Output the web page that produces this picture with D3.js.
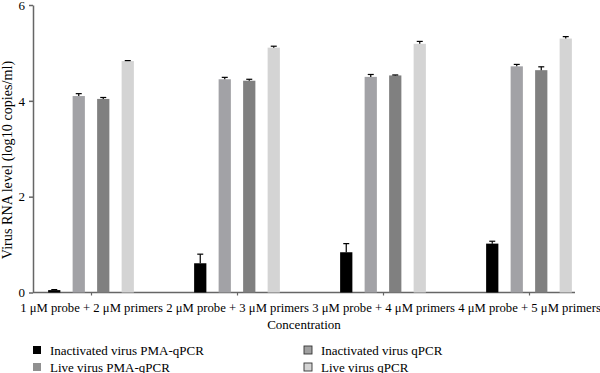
<!DOCTYPE html>
<html>
  <head>
    <meta charset="UTF-8">
    <script src="https://d3js.org/d3.v7.min.js"></script>
    <style>
        body { margin: 0; background: #fff; }
        * { font-family: 'Liberation Serif', 'DejaVu Serif', serif; }
        .tickLabel { font-size: 12.7px; fill: #000; }
        .yTickLabel { font-size: 13px; fill: #000; }
        .axisTitle { font-size: 13px; fill: #000; }
        .yTitle { font-size: 14.2px; fill: #000; }
        .legendLabel { font-size: 13px; fill: #000; }
    </style>
  </head>
  <body>
    <script>
        let categories = ['1 \u03bcM probe + 2 \u03bcM primers', '2 \u03bcM probe + 3 \u03bcM primers',
                          '3 \u03bcM probe + 4 \u03bcM primers', '4 \u03bcM probe + 5 \u03bcM primers']
        let seriesNames = ['Inactivated virus PMA-qPCR', 'Live virus PMA-qPCR', 'Inactivated virus qPCR', 'Live virus qPCR']
        let seriesColors = ['#000000', '#a2a2a6', '#808080', '#d4d4d4']
        let legendColors = ['#000000', '#909090', '#a0a0a0', '#d4d4d4']
        let inactPma = [0.05, 0.61, 0.84, 1.02]
        let inactPmaErr = [0.01, 0.19, 0.18, 0.05]
        let livePma = [4.10, 4.45, 4.50, 4.72]
        let livePmaErr = [0.05, 0.04, 0.05, 0.04]
        let inactQpcr = [4.04, 4.42, 4.53, 4.64]
        let inactQpcrErr = [0.03, 0.03, 0.01, 0.07]
        let liveQpcr = [4.83, 5.11, 5.19, 5.30]
        let liveQpcrErr = [0.01, 0.03, 0.05, 0.04]
        let yTicks = [0, 2, 4, 6]

        let values = [inactPma, livePma, inactQpcr, liveQpcr]
        let errors = [inactPmaErr, livePmaErr, inactQpcrErr, liveQpcrErr]

        let svg = d3.select('body').append('svg')
            .attr('width', 600)
            .attr('height', 373)

        let axisLeftX = 33, axisRightX = 575
        let y = d3.scaleLinear().domain([0, 6]).range([292.5, 5])
        let x = d3.scalePoint().domain(categories).range([91, 529])
        let xSub = d3.scaleBand().domain(seriesNames).range([-49, 49]).paddingInner(0.5).paddingOuter(0.25)

        // y axis
        let yAxis = svg.append('g')
            .attr('transform', `translate(${axisLeftX},0)`)
            .call(d3.axisLeft(y).tickValues(yTicks).tickFormat(d3.format('d')).tickSize(4).tickSizeOuter(0))
        yAxis.select('.domain').attr('stroke', '#666').attr('stroke-width', 1.5)
        yAxis.selectAll('.tick line').attr('stroke', '#666').attr('stroke-width', 1.5)
        yAxis.selectAll('.tick text').attr('class', 'yTickLabel').attr('font-size', null).attr('font-family', null).attr('x', -8)

        // x axis
        let xAxis = svg.append('g')
            .attr('transform', `translate(0,${y(0)})`)
            .call(d3.axisBottom(x).tickSize(3).tickSizeOuter(0))
        xAxis.select('.domain').remove()
        xAxis.selectAll('.tick line').attr('stroke', '#666').attr('stroke-width', 1.2)
        xAxis.selectAll('.tick text').attr('class', 'tickLabel').attr('font-size', null).attr('font-family', null).attr('dy', '1.05em')
        xAxis.append('line')
            .attr('x1', axisLeftX).attr('x2', axisRightX)
            .attr('stroke', '#666').attr('stroke-width', 1.5)

        // bars
        let groups = svg.selectAll('.grp')
            .data(categories)
            .enter()
            .append('g')
            .attr('transform', d => `translate(${x(d)},0)`)

        seriesNames.forEach((s, si) => {
            groups.append('rect')
                .attr('x', xSub(s))
                .attr('width', xSub.bandwidth())
                .attr('y', (d, i) => y(values[si][i]))
                .attr('height', (d, i) => y(0) - y(values[si][i]))
                .attr('fill', seriesColors[si])
            groups.append('line')
                .attr('x1', xSub(s) + xSub.bandwidth() / 2)
                .attr('x2', xSub(s) + xSub.bandwidth() / 2)
                .attr('y1', (d, i) => y(values[si][i]))
                .attr('y2', (d, i) => y(values[si][i] + errors[si][i]))
                .attr('stroke', '#000').attr('stroke-width', 1.2)
            groups.append('line')
                .attr('x1', xSub(s) + xSub.bandwidth() / 2 - 3)
                .attr('x2', xSub(s) + xSub.bandwidth() / 2 + 3)
                .attr('y1', (d, i) => y(values[si][i] + errors[si][i]))
                .attr('y2', (d, i) => y(values[si][i] + errors[si][i]))
                .attr('stroke', '#000').attr('stroke-width', 1.2)
        })

        // axis titles
        svg.append('text')
            .attr('class', 'axisTitle')
            .attr('x', (axisLeftX + axisRightX) / 2)
            .attr('y', 329)
            .attr('text-anchor', 'middle')
            .text('Concentration')

        svg.append('text')
            .attr('class', 'yTitle')
            .attr('transform', 'translate(12,160) rotate(-90)')
            .attr('text-anchor', 'middle')
            .text('Virus RNA level (log10 copies/ml)')

        // legend
        let legendPos = [[33, 350], [33, 367], [304, 350], [304, 367]]
        let legend = svg.selectAll('.legendItem')
            .data(seriesNames)
            .enter()
            .append('g')
            .attr('transform', (d, i) => `translate(${legendPos[i][0]},${legendPos[i][1]})`)
        legend.append('rect')
            .attr('x', 0).attr('y', -4)
            .attr('width', 8).attr('height', 8)
            .attr('fill', (d, i) => legendColors[i])
            .attr('stroke', (d, i) => i >= 2 ? '#333' : 'none').attr('stroke-width', 0.9)
        legend.append('text')
            .attr('class', 'legendLabel')
            .attr('x', 17)
            .attr('y', 4.5)
            .text(d => d)
    </script>
  </body>
</html>
